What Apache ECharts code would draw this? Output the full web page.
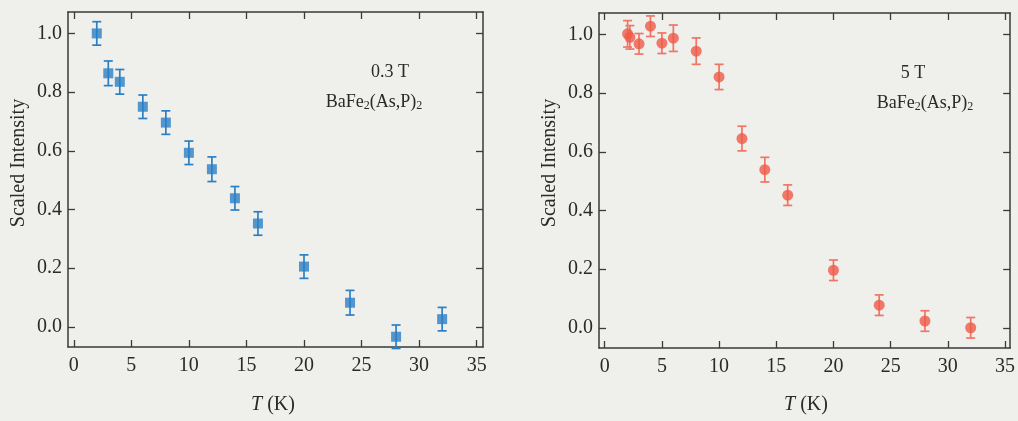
<!DOCTYPE html>
<html style="height: 100%">
<head>
    <meta charset="utf-8">
    <script src="https://cdn.jsdelivr.net/npm/echarts@6.0.0/dist/echarts.min.js"></script>
</head>
<body style="height: 100%; margin: 0; background: #efefec">
    <div id="container" style="width: 1018px; height: 421px"></div>
    <script type="text/javascript">
        var myChart = echarts.init(document.getElementById('container'));

        // colours
        const blueColor = '#2b80c5', redColor = '#ef5a48', redErr = '#f07565';
        const axisColor = '#3a3a3a', textColor = '#2a2a2a';
        const serif = '"Liberation Serif", "DejaVu Serif", serif';

        // data: 0.3 T panel
        const tLow = [2, 3, 4, 6, 8, 10, 12, 14, 16, 20, 24, 28, 32];
        const iLow = [1.0, 0.864, 0.835, 0.75, 0.696, 0.593, 0.537, 0.438, 0.352, 0.205, 0.082, -0.034, 0.026];
        const eLow = [0.04, 0.042, 0.042, 0.04, 0.04, 0.04, 0.042, 0.04, 0.04, 0.04, 0.042, 0.04, 0.04];

        // data: 5 T panel
        const tHigh = [2, 2.2, 3, 4, 5, 6, 8, 10, 12, 14, 16, 20, 24, 28, 32];
        const iHigh = [1.002, 0.99, 0.968, 1.028, 0.97, 0.987, 0.943, 0.855, 0.645, 0.539, 0.452, 0.196, 0.077, 0.023, 0.0];
        const eHigh = [0.045, 0.04, 0.035, 0.035, 0.035, 0.045, 0.045, 0.043, 0.042, 0.042, 0.035, 0.035, 0.035, 0.035, 0.035];

        // tick labels
        const xTicks = [0, 5, 10, 15, 20, 25, 30, 35];
        const yTicks = [0, 0.2, 0.4, 0.6, 0.8, 1.0];

        function pts(xs, ys) { return xs.map((x, i) => [x, ys[i]]); }
        function errs(xs, ys, es) { return xs.map((x, i) => [x, ys[i] - es[i], ys[i] + es[i]]); }

        function errorRender(color) {
            return function (params, api) {
                const x = api.value(0);
                const lo = api.coord([x, api.value(1)]);
                const hi = api.coord([x, api.value(2)]);
                const cap = 4.5;
                const style = { stroke: color, lineWidth: 1.7 };
                return {
                    type: 'group',
                    children: [
                        { type: 'line', shape: { x1: lo[0], y1: lo[1], x2: hi[0], y2: hi[1] }, style: style },
                        { type: 'line', shape: { x1: lo[0] - cap, y1: lo[1], x2: lo[0] + cap, y2: lo[1] }, style: style },
                        { type: 'line', shape: { x1: hi[0] - cap, y1: hi[1], x2: hi[0] + cap, y2: hi[1] }, style: style }
                    ]
                };
            };
        }

        const lineStyle = { color: axisColor, width: 1.5 };
        const tickStyle = { color: axisColor, width: 1.3 };

        function xAxes(gi, xmin, xmax) {
            return [
                {
                    type: 'value', gridIndex: gi, position: 'bottom', min: xmin, max: xmax,
                    axisLine: { show: true, onZero: false, lineStyle: lineStyle },
                    axisTick: { show: true, inside: true, length: 7, customValues: xTicks, lineStyle: tickStyle },
                    axisLabel: { customValues: xTicks, fontFamily: serif, fontSize: 20, color: textColor, margin: 9 },
                    splitLine: { show: false }
                },
                {
                    type: 'value', gridIndex: gi, position: 'top', min: xmin, max: xmax,
                    axisLine: { show: true, onZero: false, lineStyle: lineStyle },
                    axisTick: { show: true, inside: true, length: 7, customValues: xTicks, lineStyle: tickStyle },
                    axisLabel: { show: false },
                    splitLine: { show: false }
                }
            ];
        }

        function yAxes(gi) {
            return [
                {
                    type: 'value', gridIndex: gi, position: 'left', min: -0.069, max: 1.073,
                    axisLine: { show: true, onZero: false, lineStyle: lineStyle },
                    axisTick: { show: true, inside: true, length: 7, customValues: yTicks, lineStyle: tickStyle },
                    axisLabel: { customValues: yTicks, fontFamily: serif, fontSize: 20, color: textColor, margin: 6,
                        formatter: function (v) { return v.toFixed(1); } },
                    splitLine: { show: false }
                },
                {
                    type: 'value', gridIndex: gi, position: 'right', min: -0.069, max: 1.073,
                    axisLine: { show: true, onZero: false, lineStyle: lineStyle },
                    axisTick: { show: true, inside: true, length: 7, customValues: yTicks, lineStyle: tickStyle },
                    axisLabel: { show: false },
                    splitLine: { show: false }
                }
            ];
        }

        function plainText(cx, cy, str, size, extra) {
            return Object.assign({
                type: 'text', x: cx, y: cy,
                style: { text: str, fontFamily: serif, fontSize: size, fill: textColor, align: 'center', verticalAlign: 'middle' }
            }, extra || {});
        }

        function formula(cx, cy) {
            return {
                type: 'text', x: cx, y: cy,
                style: {
                    text: 'BaFe{s|2}(As,P){s|2}', fontFamily: serif, fontSize: 18, fill: textColor,
                    align: 'center', verticalAlign: 'middle',
                    rich: { s: { fontFamily: serif, fontSize: 12, fill: textColor, verticalAlign: 'bottom', padding: [7, 0, 0, 0] } }
                }
            };
        }

        function tkLabel(cx, cy) {
            return {
                type: 'text', x: cx, y: cy,
                style: {
                    text: '{i|T} (K)', fontFamily: serif, fontSize: 20, fill: textColor,
                    align: 'center', verticalAlign: 'middle',
                    rich: { i: { fontFamily: serif, fontSize: 20, fontStyle: 'italic', fill: textColor } }
                }
            };
        }

        option = {
            backgroundColor: '#efefec',
            animation: false,
            grid: [
                { left: 68, top: 12, width: 415, height: 335 },
                { left: 599, top: 13, width: 414, height: 335 }
            ],
            xAxis: xAxes(0, -0.5, 35.55).concat(xAxes(1, -0.5, 35.45)),
            yAxis: yAxes(0).concat(yAxes(1)),
            graphic: [
                plainText(19, 163, 'Scaled Intensity', 20, { rotation: Math.PI / 2 }),
                plainText(550, 163, 'Scaled Intensity', 20, { rotation: Math.PI / 2 }),
                tkLabel(273, 405),
                tkLabel(806, 405),
                plainText(390, 72, '0.3 T', 18),
                formula(374, 102),
                plainText(913, 73, '5 T', 18),
                formula(925, 103)
            ],
            series: [
                {
                    type: 'custom', xAxisIndex: 0, yAxisIndex: 0,
                    renderItem: errorRender(blueColor), data: errs(tLow, iLow, eLow), z: 2
                },
                {
                    type: 'scatter', xAxisIndex: 0, yAxisIndex: 0,
                    symbol: 'rect', symbolSize: 10, itemStyle: { color: blueColor },
                    data: pts(tLow, iLow), z: 3
                },
                {
                    type: 'custom', xAxisIndex: 2, yAxisIndex: 2,
                    renderItem: errorRender(redErr), data: errs(tHigh, iHigh, eHigh), z: 2
                },
                {
                    type: 'scatter', xAxisIndex: 2, yAxisIndex: 2,
                    symbol: 'circle', symbolSize: 11, itemStyle: { color: redColor },
                    data: pts(tHigh, iHigh), z: 3
                }
            ]
        };

        myChart.setOption(option);
        window.addEventListener('resize', function() { myChart.resize(); });
    </script>
</body>
</html>
